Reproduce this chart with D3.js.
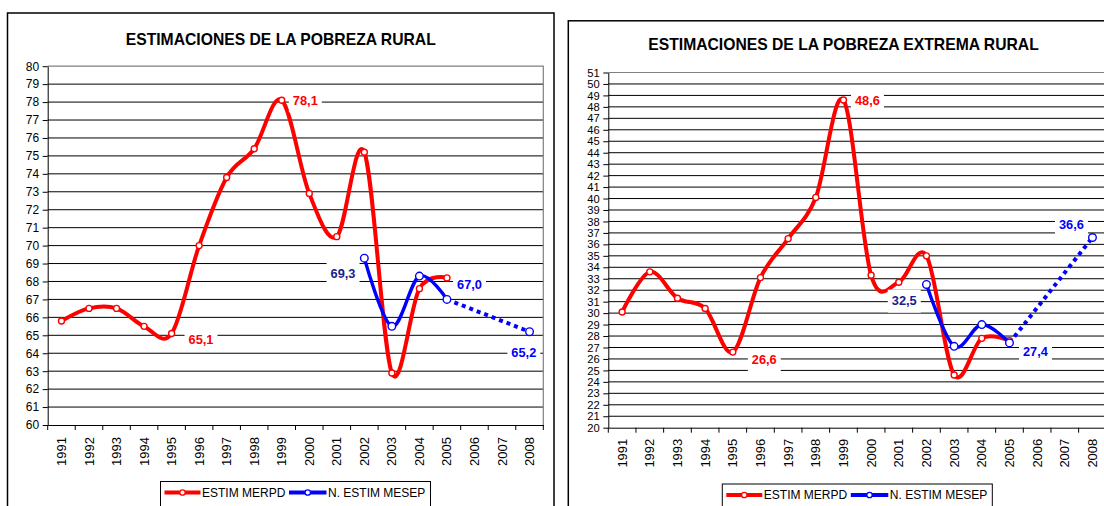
<!DOCTYPE html>
<html>
<head>
<meta charset="utf-8">
<script src="https://cdn.jsdelivr.net/npm/d3@7"></script>
<style>
  body { margin: 0; background: #fff; }
  svg { display: block; font-family: Arial, "Liberation Sans", sans-serif; }
</style>
</head>
<body>
<div id="chart"></div>
<script>
// data
var years = ["1991", "1992", "1993", "1994", "1995", "1996", "1997", "1998", "1999",
             "2000", "2001", "2002", "2003", "2004", "2005", "2006", "2007", "2008"];
var seriesNames = ["ESTIM MERPD", "N. ESTIM MESEP"];

var merpdRural   = [65.8, 66.5, 66.5, 65.5, 65.1, 70.0, 73.8, 75.4, 78.1, 72.9, 70.5, 75.2, 62.9, 67.6, 68.2, null, null, null];
var mesepRural   = [null, null, null, null, null, null, null, null, null, null, null, 69.3, 65.5, 68.3, 67.0, null, null, 65.2];
var merpdExtrema = [30.1, 33.6, 31.3, 30.4, 26.6, 33.1, 36.5, 40.1, 48.6, 33.3, 32.7, 35.0, 24.6, 27.8, 27.6, null, null, null];
var mesepExtrema = [null, null, null, null, null, null, null, null, null, null, null, 32.5, 27.1, 29.0, 27.4, null, null, 36.6];

var yTicksRural   = [60, 61, 62, 63, 64, 65, 66, 67, 68, 69, 70, 71, 72, 73, 74, 75, 76, 77, 78, 79, 80];
var yTicksExtrema = [20, 21, 22, 23, 24, 25, 26, 27, 28, 29, 30, 31, 32, 33, 34, 35, 36, 37, 38, 39, 40,
                     41, 42, 43, 44, 45, 46, 47, 48, 49, 50, 51];

// which points carry a value label: [series, year]
var labelsRural   = [[0, "1999"], [0, "1995"], [1, "2002"], [1, "2005"], [1, "2008"]];
var labelsExtrema = [[0, "1999"], [0, "1995"], [1, "2002"], [1, "2005"], [1, "2008"]];

var colors = ["#ff0000", "#0000ff"];

var svg = d3.select("#chart").append("svg")
  .attr("width", 1104)
  .attr("height", 506);

function drawChart(c) {
  var g = svg.append("g");

  // outer chart frame
  g.append("rect")
    .attr("x", c.frame[0]).attr("y", c.frame[1])
    .attr("width", c.frame[2]).attr("height", 600)
    .attr("fill", "#fff").attr("stroke", "#000").attr("stroke-width", 1.5);

  g.append("text")
    .attr("x", c.frame[0] + c.frame[2] / 2)
    .attr("y", c.titleY)
    .attr("text-anchor", "middle")
    .attr("font-weight", "bold")
    .attr("font-size", "15.7px")
    .text(c.title);

  var x = d3.scaleBand().domain(years).range([c.x0, c.x1]);
  var lo = c.yTicks[0], hi = c.yTicks[c.yTicks.length - 1];
  var y = d3.scaleLinear().domain([lo, hi]).range([c.y1, c.y0]);
  var px = function(yr) { return x(yr) + x.bandwidth() / 2; };

  // gridlines
  g.append("g").selectAll("line")
    .data(c.yTicks.slice(1, -1))
    .join("line")
    .attr("x1", c.x0).attr("x2", c.x1)
    .attr("y1", d => y(d)).attr("y2", d => y(d))
    .attr("stroke", "#000").attr("stroke-width", 1);

  // plot border (top and right)
  g.append("path")
    .attr("d", "M" + c.x0 + "," + y(hi) + "H" + c.x1 + "V" + c.y1)
    .attr("fill", "none").attr("stroke", "#808080").attr("stroke-width", 1.2);

  // y axis
  var yAxis = g.append("g")
    .attr("transform", "translate(" + c.x0 + ",0)")
    .call(d3.axisLeft(y).tickValues(c.yTicks).tickSize(5).tickSizeOuter(0).tickPadding(3.5))
    .attr("font-size", null).attr("font-family", null);
  yAxis.selectAll("text").attr("font-size", c.yFont).attr("fill", "#000");
  yAxis.selectAll("line,path").attr("stroke", "#000");

  // x axis
  var xAxis = g.append("g")
    .attr("transform", "translate(0," + c.y1 + ")")
    .call(d3.axisBottom(x).tickSize(0).tickSizeOuter(0))
    .attr("font-size", null).attr("font-family", null);
  xAxis.select(".domain").attr("stroke", "#000");
  xAxis.selectAll("text")
    .attr("transform", "rotate(-90)")
    .attr("text-anchor", "end")
    .attr("x", -c.xGap).attr("y", 0).attr("dy", "0.35em")
    .attr("font-size", "13px").attr("fill", "#000");
  xAxis.selectAll(".bound")
    .data(d3.range(years.length + 1))
    .join("line")
    .attr("x1", i => c.x0 + i * x.step()).attr("x2", i => c.x0 + i * x.step())
    .attr("y1", 0).attr("y2", 5)
    .attr("stroke", "#000");

  var line = d3.line()
    .defined(d => d.v != null)
    .x(d => px(d.yr)).y(d => y(d.v))
    .curve(d3.curveCardinal.tension(0));

  c.series.forEach(function(vals, s) {
    var pts = vals.map((v, i) => ({ yr: years[i], v: v }));
    var known = pts.filter(d => d.v != null);

    g.append("path")
      .datum(pts)
      .attr("d", line)
      .attr("fill", "none")
      .attr("stroke", colors[s])
      .attr("stroke-width", s === 0 ? 4 : 3.4)
      .attr("stroke-linejoin", "round");

    // gaps bridged with a dotted straight segment
    for (var k = 1; k < known.length; k++) {
      if (years.indexOf(known[k].yr) - years.indexOf(known[k - 1].yr) > 1) {
        g.append("line")
          .attr("x1", px(known[k - 1].yr)).attr("y1", y(known[k - 1].v))
          .attr("x2", px(known[k].yr)).attr("y2", y(known[k].v))
          .attr("stroke", colors[s]).attr("stroke-width", 4)
          .attr("stroke-dasharray", "4,4");
      }
    }

    g.append("g").selectAll("circle")
      .data(known)
      .join("circle")
      .attr("cx", d => px(d.yr)).attr("cy", d => y(d.v))
      .attr("r", s === 0 ? 3 : 3.8)
      .attr("fill", "#fff")
      .attr("stroke", colors[s]).attr("stroke-width", 1.4);
  });

  // value labels with white boxes
  c.labels.forEach(function(lb, k) {
    var s = lb[0], yr = lb[1];
    var v = c.series[s][years.indexOf(yr)];
    var off = c.labelOff[k];
    var lx = px(yr) + off[0], ly = y(v) + off[1];
    var lg = g.append("g");
    var t = lg.append("text")
      .attr("x", lx).attr("y", ly).attr("dy", "0.36em")
      .attr("text-anchor", "middle")
      .attr("font-weight", "bold").attr("font-size", "12.8px")
      .attr("fill", off[2])
      .text(v.toFixed(1).replace(".", ","));
    var w = t.node().getComputedTextLength();
    lg.insert("rect", "text")
      .attr("x", lx - w / 2 - 4).attr("y", ly - 11)
      .attr("width", w + 8).attr("height", 23)
      .attr("fill", "#fff");
  });

  // legend
  var cxp = (c.x0 + c.x1) / 2;
  var lgd = g.append("g").attr("transform", "translate(" + (cxp - 135) + "," + c.legendTop + ")");
  lgd.append("rect")
    .attr("x", 0).attr("y", 0).attr("width", 270).attr("height", 60)
    .attr("fill", "#fff").attr("stroke", "#000").attr("stroke-width", 1);
  var items = [[4, 40, 41.5], [128.5, 166, 167.5]];
  seriesNames.forEach(function(name, s) {
    var it = items[s];
    lgd.append("line")
      .attr("x1", it[0]).attr("x2", it[1]).attr("y1", 11).attr("y2", 11)
      .attr("stroke", colors[s]).attr("stroke-width", 4);
    lgd.append("circle")
      .attr("cx", (it[0] + it[1]) / 2).attr("cy", 11).attr("r", 2.7)
      .attr("fill", "#fff").attr("stroke", colors[s]).attr("stroke-width", 1.3);
    lgd.append("text")
      .attr("x", it[2]).attr("y", 11).attr("dy", "0.36em")
      .attr("font-size", "12px").attr("fill", "#000")
      .text(name);
  });
}

drawChart({
  title: "ESTIMACIONES DE LA POBREZA RURAL",
  frame: [7.5, 13, 546.5], titleY: 45.4,
  x0: 47.7, x1: 543.3, y0: 66.2, y1: 425,
  yTicks: yTicksRural, yFont: "12px", xGap: 12,
  series: [merpdRural, mesepRural],
  labels: labelsRural,
  labelOff: [[23.6, 0, "#ff0000"], [29.4, 6.3, "#ff0000"], [-21.3, 15.7, "#1c1c8c"],
             [22.6, -15, "#0000ff"], [-5.7, 20.8, "#0000ff"]],
  legendTop: 481.5
});

drawChart({
  title: "ESTIMACIONES DE LA POBREZA EXTREMA RURAL",
  frame: [568.3, 20.8, 550.4], titleY: 50.3,
  x0: 608.3, x1: 1106.3, y0: 72.5, y1: 427.7,
  yTicks: yTicksExtrema, yFont: "11.2px", xGap: 11,
  series: [merpdExtrema, mesepExtrema],
  labels: labelsExtrema,
  labelOff: [[24, 0, "#ff0000"], [31.5, 7.2, "#ff0000"], [-22.2, 16.2, "#1c1c8c"],
             [26, 8.8, "#0000ff"], [-21, -13.2, "#0000ff"]],
  legendTop: 484
});
</script>
</body>
</html>
